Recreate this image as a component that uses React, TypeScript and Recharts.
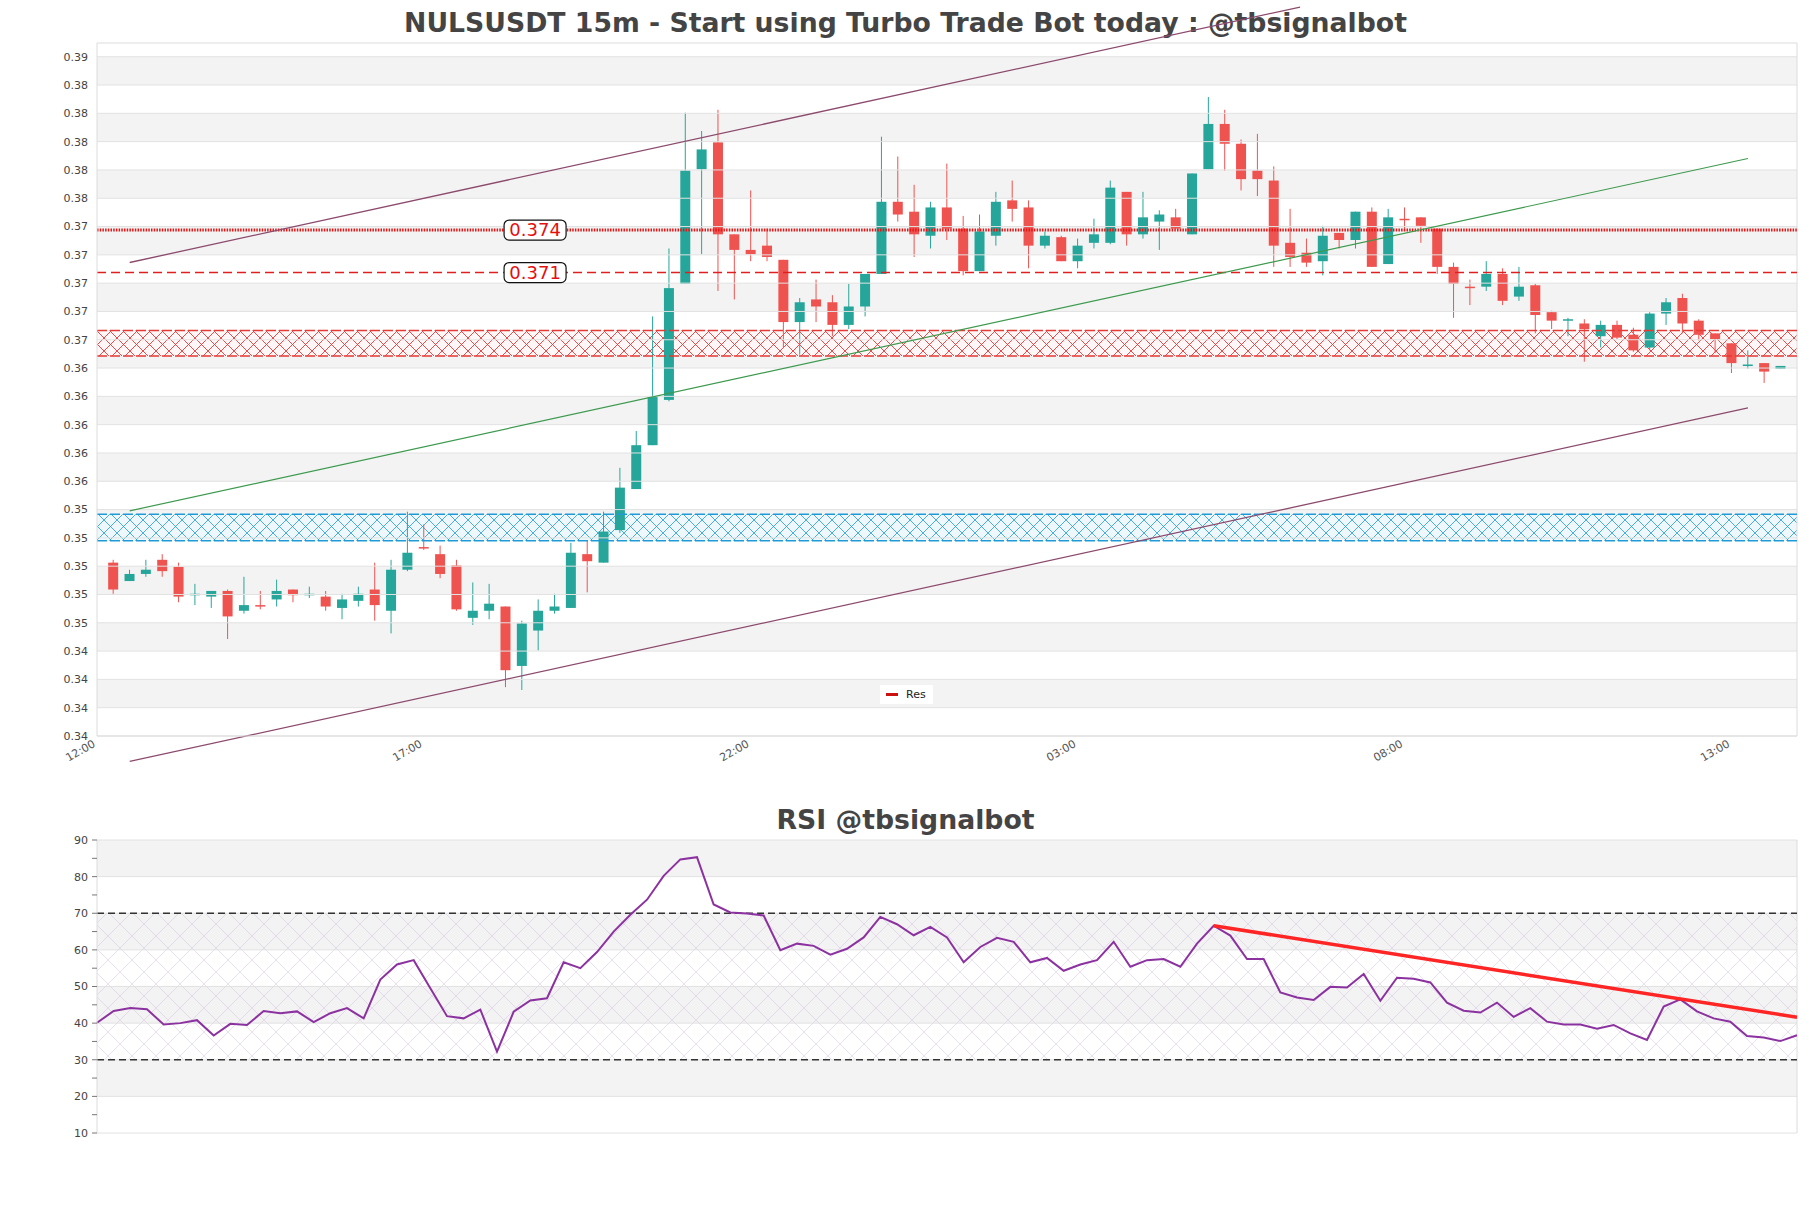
import React from "react";
import {
  ComposedChart,
  Bar,
  XAxis,
  YAxis,
  ReferenceLine,
  ReferenceArea,
  ReferenceDot,
  LineChart,
  Line,
} from "recharts";

// 15m candles, 12:15 -> 13:45 next day
const opens = [
  0.3505, 0.3492, 0.3497, 0.3507, 0.3502, 0.3482, 0.3481, 0.3485, 0.3471, 0.3475,
  0.3479, 0.3486, 0.3482, 0.3481, 0.3473, 0.3478, 0.3486, 0.3471, 0.35, 0.3516,
  0.3511, 0.3503, 0.3466, 0.3471, 0.3474, 0.3432, 0.3457, 0.3471, 0.3473, 0.3511,
  0.3505, 0.3528, 0.3557, 0.3588, 0.362, 0.3702, 0.3783, 0.3802, 0.3737, 0.3726,
  0.3729, 0.3719, 0.3675, 0.3691, 0.3689, 0.3673, 0.3686, 0.3709, 0.376, 0.3753,
  0.3736, 0.3756, 0.3741, 0.3711, 0.3736, 0.3761, 0.3756, 0.3729, 0.3735, 0.3718,
  0.3731, 0.3731, 0.3767, 0.3737, 0.3746, 0.3749, 0.3737, 0.3783, 0.3815, 0.3801,
  0.3782, 0.3775, 0.3731, 0.3724, 0.3718, 0.3738, 0.3733, 0.3753, 0.3716, 0.3748,
  0.3749, 0.3741, 0.3714, 0.37, 0.37, 0.3709, 0.3693, 0.3701, 0.3682, 0.3676,
  0.3674, 0.3665, 0.3673, 0.3666, 0.3657, 0.3681, 0.3692, 0.3676, 0.3667, 0.366,
  0.3644, 0.3646, 0.3642,
];
const highs = [
  0.3507, 0.35, 0.3507, 0.3511, 0.3505, 0.349, 0.3485, 0.3486, 0.3495, 0.3485,
  0.3493, 0.3486, 0.3488, 0.3485, 0.3483, 0.3488, 0.3505, 0.3507, 0.3541, 0.3532,
  0.3517, 0.3507, 0.3491, 0.349, 0.3474, 0.3464, 0.3479, 0.3483, 0.3519, 0.3521,
  0.3541, 0.3572, 0.3598, 0.3679, 0.3727, 0.3823, 0.381, 0.3825, 0.3737, 0.3768,
  0.3741, 0.3719, 0.3692, 0.3705, 0.3694, 0.3702, 0.3709, 0.3806, 0.3792, 0.3772,
  0.376, 0.3787, 0.375, 0.3751, 0.3767, 0.3775, 0.3761, 0.3739, 0.3736, 0.3734,
  0.3748, 0.3775, 0.3767, 0.3767, 0.3754, 0.3755, 0.378, 0.3834, 0.3825, 0.3804,
  0.3808, 0.3785, 0.3755, 0.3734, 0.3743, 0.3738, 0.3753, 0.3756, 0.3755, 0.3756,
  0.3749, 0.3741, 0.3717, 0.3705, 0.3718, 0.3713, 0.3714, 0.3702, 0.3683, 0.3678,
  0.3677, 0.3676, 0.3676, 0.3671, 0.3682, 0.3692, 0.3695, 0.3677, 0.3667, 0.366,
  0.3655, 0.3646, 0.3644,
];
const lows = [
  0.3483, 0.3492, 0.3495, 0.3495, 0.3477, 0.3475, 0.3473, 0.3451, 0.3469, 0.3472,
  0.3474, 0.3477, 0.348, 0.3471, 0.3465, 0.3474, 0.3464, 0.3455, 0.3499, 0.3514,
  0.3494, 0.3471, 0.3461, 0.3465, 0.3417, 0.3415, 0.3443, 0.3469, 0.3473, 0.3484,
  0.3505, 0.3526, 0.3557, 0.3588, 0.3619, 0.3702, 0.3723, 0.3697, 0.3691, 0.3718,
  0.3718, 0.3657, 0.3652, 0.3675, 0.3665, 0.367, 0.3679, 0.3709, 0.3746, 0.3721,
  0.3727, 0.3733, 0.3708, 0.3711, 0.3729, 0.3746, 0.3713, 0.3727, 0.3718, 0.3713,
  0.3727, 0.373, 0.3729, 0.3734, 0.3726, 0.3741, 0.3737, 0.3783, 0.3782, 0.3768,
  0.3764, 0.3714, 0.3714, 0.3714, 0.3708, 0.3727, 0.3727, 0.3714, 0.3716, 0.3741,
  0.3731, 0.3709, 0.3678, 0.3687, 0.3697, 0.3687, 0.369, 0.3667, 0.367, 0.3665,
  0.3647, 0.3657, 0.3663, 0.3654, 0.3655, 0.3673, 0.3667, 0.3662, 0.3653, 0.3639,
  0.3642, 0.3632, 0.3642,
];
const closes = [
  0.3486, 0.3497, 0.35, 0.3499, 0.3481, 0.3483, 0.3485, 0.3467, 0.3475, 0.3474,
  0.3485, 0.3482, 0.3483, 0.3474, 0.3479, 0.3483, 0.3475, 0.35, 0.3512, 0.3515,
  0.3497, 0.3472, 0.3471, 0.3476, 0.3429, 0.3462, 0.3471, 0.3474, 0.3512, 0.3506,
  0.3527, 0.3558, 0.3588, 0.3622, 0.3699, 0.3782, 0.3797, 0.3737, 0.3726, 0.3723,
  0.3721, 0.3675, 0.3689, 0.3686, 0.3673, 0.3686, 0.3709, 0.376, 0.3751, 0.3737,
  0.3756, 0.3741, 0.3711, 0.3739, 0.376, 0.3755, 0.3729, 0.3736, 0.3718, 0.3729,
  0.3737, 0.377, 0.3737, 0.3749, 0.3751, 0.3741, 0.378, 0.3815, 0.3801, 0.3776,
  0.3776, 0.3729, 0.3721, 0.3717, 0.3736, 0.3733, 0.3753, 0.3714, 0.3749, 0.3747,
  0.3743, 0.3714, 0.3702, 0.3699, 0.3709, 0.369, 0.37, 0.368, 0.3676, 0.3677,
  0.367, 0.3673, 0.3664, 0.3655, 0.3681, 0.3689, 0.3674, 0.3666, 0.3663, 0.3646,
  0.3645, 0.364, 0.3644,
];

const rsiValues = [
  40.1, 43.3, 44.1, 43.8, 39.6, 40.0, 40.8, 36.6, 39.8, 39.5,
  43.3, 42.7, 43.2, 40.3, 42.7, 44.1, 41.3, 51.9, 56.0, 57.2,
  49.5, 41.9, 41.3, 43.7, 32.2, 43.1, 46.2, 46.8, 56.6, 55.0,
  59.4, 65.0, 69.6, 73.7, 80.2, 84.7, 85.3, 72.4, 70.2, 69.9,
  69.4, 59.9, 61.7, 61.1, 58.7, 60.3, 63.4, 69.0, 67.0, 64.0,
  66.3, 63.4, 56.6, 60.8, 63.3, 62.2, 56.6, 57.8, 54.3, 56.0,
  57.2, 62.2, 55.4, 57.2, 57.5, 55.4, 61.7, 66.6, 63.9, 57.5,
  57.5, 48.4, 47.0, 46.3, 49.9, 49.7, 53.4, 46.1, 52.4, 52.1,
  51.1, 45.6, 43.4, 42.9, 45.6, 41.7, 44.1, 40.4, 39.6, 39.6,
  38.5, 39.5, 37.2, 35.4, 44.5, 46.5, 43.2, 41.3, 40.4, 36.5,
  36.1, 35.1, 36.7,
];

const timeTicks = [0, 20, 40, 60, 80, 100];
const timeLabels = ["12:00", "17:00", "22:00", "03:00", "08:00", "13:00"];
const priceTicks = [
  0.33825, 0.34025, 0.34225, 0.34425, 0.34625, 0.34825, 0.35025, 0.35225, 0.35425,
  0.35625, 0.35825, 0.36025, 0.36225, 0.36425, 0.36625, 0.36825, 0.37025, 0.37225,
  0.37425, 0.37625, 0.37825, 0.38025, 0.38225, 0.38425, 0.38625,
];
const priceDomain = [0.33825, 0.38722];
const rsiTicks = [10, 15, 20, 25, 30, 35, 40, 45, 50, 55, 60, 65, 70, 75, 80, 85, 90];

const resistanceLevels = [0.374, 0.371];
const redZone = [0.3651, 0.3669];
const blueZone = [0.35204, 0.35392];
const upperChannel = [{ x: 2, y: 0.37171 }, { x: 73.6, y: 0.38976 }];
const lowerChannel = [{ x: 2, y: 0.33645 }, { x: 101, y: 0.36143 }];
const midChannel = [{ x: 2, y: 0.35416 }, { x: 101, y: 0.37906 }];
const tagX = 26.8;
const rsiTrend = [{ x: 67, y: 66.6 }, { x: 102, y: 41.6 }];

const GREEN = "#26a69a";
const RED = "#ef5350";
const BAND = "#f3f3f3";
const GRID = "#e2e2e2";
const FONT = "DejaVu Sans, sans-serif";

const candles = opens.map((o, i) => ({
  t: i + 1,
  open: o,
  high: highs[i],
  low: lows[i],
  close: closes[i],
  range: [lows[i], highs[i]],
}));
const rsiRows = rsiValues.map((v, j) => ({ j, rsi: v }));

const Candle = (props: any) => {
  const { x, y, width, height, payload } = props;
  if (x == null || payload == null) return null;
  const top = Math.min(y, y + height);
  const h = Math.abs(height);
  const span = payload.high - payload.low || 1e-9;
  const yOf = (v: number) => top + ((payload.high - v) / span) * h;
  const up = payload.close >= payload.open;
  const color = up ? GREEN : RED;
  const bTop = yOf(Math.max(payload.open, payload.close));
  const bBot = yOf(Math.min(payload.open, payload.close));
  const cx = x + width / 2;
  return (
    <g>
      <line x1={cx} x2={cx} y1={top} y2={top + h} stroke={color} strokeWidth={1} />
      <rect x={x} y={bTop} width={width} height={Math.max(bBot - bTop, 1.5)} fill={color} />
    </g>
  );
};

const TimeTick = ({ x, y, payload }: any) => {
  const label = timeLabels[timeTicks.indexOf(payload.value)];
  return (
    <text
      x={x - 1}
      y={y + 10}
      transform={`rotate(-30 ${x - 1} ${y + 10})`}
      textAnchor="end"
      fontSize={11}
      fill="#555"
      fontFamily={FONT}
    >
      {label}
    </text>
  );
};

const PriceTag = ({ cx, cy, text }: any) => (
  <g>
    <rect x={cx - 31} y={cy - 10} width={62} height={20} rx={5} fill="#fff" stroke="#111" strokeWidth={1.2} />
    <text x={cx} y={cy + 6} textAnchor="middle" fontSize={18} fill="#e41010" fontFamily={FONT}>
      {text}
    </text>
  </g>
);

const bandPairs = (ticks: number[]) => {
  const out: [number, number][] = [];
  for (let k = ticks.length - 1; k > 0; k -= 2) out.push([ticks[k - 1], ticks[k]]);
  return out;
};

export default function App() {
  const priceBands = bandPairs(priceTicks);
  const rsiMajor = rsiTicks.filter((v) => v % 10 === 0);
  const rsiBands = bandPairs(rsiMajor);

  return (
    <div style={{ position: "absolute", left: 0, top: 0, width: 1811, height: 1208, background: "#fff", fontFamily: FONT }}>
      <svg width={0} height={0} style={{ position: "absolute" }}>
        <defs>
          <pattern id="redHatch" width={13} height={13} patternUnits="userSpaceOnUse">
            <rect width={13} height={13} fill="#fff7f7" />
            <path d="M0,0 L13,13 M13,0 L0,13" stroke="#e53935" strokeWidth={0.9} />
          </pattern>
          <pattern id="blueHatch" width={13} height={13} patternUnits="userSpaceOnUse">
            <rect width={13} height={13} fill="#eef8fc" />
            <path d="M0,0 L13,13 M13,0 L0,13" stroke="#1e9bd7" strokeWidth={0.8} />
          </pattern>
          <pattern id="rsiHatch" width={24} height={24} patternUnits="userSpaceOnUse">
            <path d="M0,0 L24,24 M24,0 L0,24" stroke="#c9b6d8" strokeWidth={0.6} strokeOpacity={0.7} />
          </pattern>
        </defs>
      </svg>

      <div style={{ position: "absolute", left: 0, top: 7, width: 1811, textAlign: "center", fontSize: 26.7, fontWeight: "bold", color: "#444", lineHeight: "32px" }}>
        NULSUSDT 15m - Start using Turbo Trade Bot today : @tbsignalbot
      </div>

      <div style={{ position: "absolute", left: 0, top: 0 }}>
        <ComposedChart width={1811} height={780} data={candles} margin={{ top: 43, right: 14, bottom: 4, left: 0 }}>
          <XAxis
            type="number"
            dataKey="t"
            domain={[0, 104]}
            ticks={timeTicks}
            tick={<TimeTick />}
            tickLine={false}
            axisLine={{ stroke: "#dcdcdc" }}
            height={40}
            tickSize={0}
            tickMargin={0}
            allowDataOverflow
          />
          <YAxis
            type="number"
            domain={priceDomain}
            ticks={priceTicks}
            tickFormatter={(v: number) => v.toFixed(2)}
            width={97}
            tickLine={false}
            tickSize={5}
            tickMargin={4}
            axisLine={{ stroke: "#dcdcdc" }}
            tick={{ fontSize: 11, fill: "#444", fontFamily: FONT }}
            allowDataOverflow
          />
          {priceBands.map(([a, b]) => (
            <ReferenceArea key={`pb${a}`} y1={a} y2={b} fill={BAND} fillOpacity={1} stroke="none" />
          ))}
          {priceTicks.map((v) => (
            <ReferenceLine key={`pg${v}`} y={v} stroke={GRID} strokeWidth={1} />
          ))}
          <ReferenceLine y={priceDomain[1]} stroke="#dcdcdc" />
          <ReferenceLine x={104} stroke="#dcdcdc" />

          <ReferenceArea y1={redZone[0]} y2={redZone[1]} fill="url(#redHatch)" fillOpacity={1} stroke="none" />
          <ReferenceLine y={redZone[0]} stroke="#e53935" strokeWidth={1.5} strokeDasharray="10 3" />
          <ReferenceLine y={redZone[1]} stroke="#e53935" strokeWidth={1.5} strokeDasharray="10 3" />
          <ReferenceArea y1={blueZone[0]} y2={blueZone[1]} fill="url(#blueHatch)" fillOpacity={1} stroke="none" />
          <ReferenceLine y={blueZone[0]} stroke="#1e9bd7" strokeWidth={1.5} strokeDasharray="10 3" />
          <ReferenceLine y={blueZone[1]} stroke="#1e9bd7" strokeWidth={1.5} strokeDasharray="10 3" />

          <ReferenceLine y={resistanceLevels[0]} stroke="#e01818" strokeWidth={3} strokeDasharray="1.5 1.2" />
          <ReferenceLine y={resistanceLevels[1]} stroke="#e02020" strokeWidth={1.4} strokeDasharray="9 5" />

          <Bar dataKey="range" barSize={10} shape={<Candle />} isAnimationActive={false} />

          <ReferenceLine segment={upperChannel} stroke="#8c4a6c" strokeWidth={1.3} ifOverflow="visible" />
          <ReferenceLine segment={lowerChannel} stroke="#8c4a6c" strokeWidth={1.3} ifOverflow="visible" />
          <ReferenceLine segment={midChannel} stroke="#3d9a4e" strokeWidth={1.2} ifOverflow="visible" />

          {resistanceLevels.map((lv) => (
            <ReferenceDot
              key={`tag${lv}`}
              x={tagX}
              y={lv}
              r={0}
              shape={(p: any) => <PriceTag cx={p.cx} cy={p.cy} text={lv.toFixed(3)} />}
            />
          ))}
        </ComposedChart>
      </div>

      <div style={{ position: "absolute", left: 880, top: 685, width: 53, height: 19, background: "#fff", fontSize: 11, color: "#222", display: "flex", alignItems: "center" }}>
        <span style={{ display: "inline-block", width: 12, height: 3, background: "#cc1111", marginLeft: 6, marginRight: 8 }} />
        Res
      </div>

      <div style={{ position: "absolute", left: 0, top: 804, width: 1811, textAlign: "center", fontSize: 26.7, fontWeight: "bold", color: "#444", lineHeight: "32px" }}>
        RSI @tbsignalbot
      </div>

      <div style={{ position: "absolute", left: 0, top: 780 }}>
        <LineChart width={1811} height={428} data={rsiRows} margin={{ top: 60, right: 14, bottom: 75, left: 0 }}>
          <XAxis type="number" dataKey="j" domain={[0, 102]} hide />
          <YAxis
            type="number"
            domain={[10, 90]}
            ticks={rsiTicks}
            tickFormatter={(v: number) => (v % 10 === 0 ? String(v) : "")}
            width={97}
            tickSize={5}
            tickMargin={4}
            tickLine={{ stroke: "#777" }}
            axisLine={{ stroke: "#dcdcdc" }}
            tick={{ fontSize: 11, fill: "#444", fontFamily: FONT }}
          />
          {rsiBands.map(([a, b]) => (
            <ReferenceArea key={`rb${a}`} y1={a} y2={b} fill={BAND} fillOpacity={1} stroke="none" />
          ))}
          <ReferenceArea y1={30} y2={70} fill="url(#rsiHatch)" fillOpacity={1} stroke="none" />
          {rsiMajor.map((v) => (
            <ReferenceLine key={`rg${v}`} y={v} stroke={GRID} strokeWidth={1} />
          ))}
          <ReferenceLine x={102} stroke="#dcdcdc" />
          <ReferenceLine y={70} stroke="#333" strokeWidth={1.3} strokeDasharray="7 4" />
          <ReferenceLine y={30} stroke="#333" strokeWidth={1.3} strokeDasharray="7 4" />
          <Line type="linear" dataKey="rsi" stroke="#8c32a0" strokeWidth={2} dot={false} isAnimationActive={false} />
          <ReferenceLine segment={rsiTrend} stroke="#ff2525" strokeWidth={3.5} ifOverflow="visible" />
        </LineChart>
      </div>
    </div>
  );
}
